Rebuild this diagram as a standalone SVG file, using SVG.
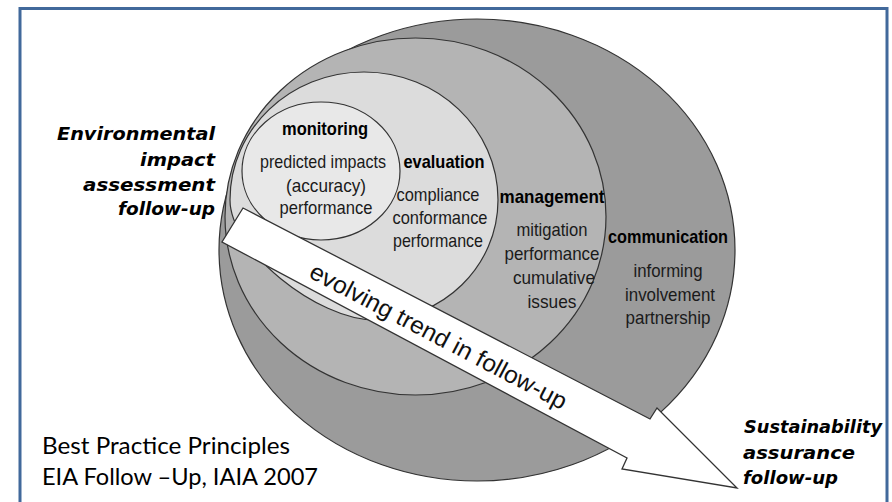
<svg xmlns="http://www.w3.org/2000/svg" width="892" height="502" viewBox="0 0 892 502">
  <style>
    .ring { stroke: #333333; stroke-width: 1.2; }
    .lbl { font-family: "Liberation Sans", Arial, sans-serif; font-size: 18.5px; fill: #1a1a1a; text-anchor: middle; }
    .hd { font-weight: bold; fill: #000; }
    .side { font-family: "DejaVu Sans", Verdana, sans-serif; font-size: 18px; font-weight: bold; font-style: italic; fill: #000; }
    .src { font-family: Lato, "Open Sans", sans-serif; font-size: 24px; fill: #000; }
  </style>

  <rect width="892" height="502" fill="#ffffff"/>
  <!-- page frame (open at the bottom edge) -->
  <rect x="20" y="8.5" width="867" height="520" fill="none" stroke="#41699b" stroke-width="3"/>

  <!-- outermost ring: communication -->
  <g id="communication">
    <ellipse class="ring" fill="#9b9b9b" cx="477" cy="250" rx="258" ry="231"/>
    <text class="lbl hd" x="668" y="243" textLength="120" lengthAdjust="spacingAndGlyphs">communication</text>
    <text class="lbl" x="668" y="277" textLength="69" lengthAdjust="spacingAndGlyphs">informing</text>
    <text class="lbl" x="670" y="301" textLength="90" lengthAdjust="spacingAndGlyphs">involvement</text>
    <text class="lbl" x="668" y="324" textLength="85" lengthAdjust="spacingAndGlyphs">partnership</text>
  </g>

  <!-- management ring -->
  <g id="management">
    <ellipse class="ring" fill="#b4b4b4" cx="415.5" cy="216.5" rx="190.5" ry="178.5"/>
    <text class="lbl hd" x="552" y="203" textLength="105" lengthAdjust="spacingAndGlyphs">management</text>
    <text class="lbl" x="552" y="236" textLength="71" lengthAdjust="spacingAndGlyphs">mitigation</text>
    <text class="lbl" x="552" y="260" textLength="95" lengthAdjust="spacingAndGlyphs">performance</text>
    <text class="lbl" x="554" y="284" textLength="82" lengthAdjust="spacingAndGlyphs">cumulative</text>
    <text class="lbl" x="552" y="308" textLength="49" lengthAdjust="spacingAndGlyphs">issues</text>
  </g>

  <!-- evaluation ring: lower-left quarter drawn flatter -->
  <g id="evaluation">
    <path class="ring" fill="#dcdcdc"
      d="M230,200 C230,129 290,72 364,72 C438,72 498,129 498,200 C498,266 443,320 375,320 C317,320 230,250 230,200 Z"/>
    <text class="lbl hd" x="444" y="168" textLength="81" lengthAdjust="spacingAndGlyphs">evaluation</text>
    <text class="lbl" x="438" y="201" textLength="83" lengthAdjust="spacingAndGlyphs">compliance</text>
    <text class="lbl" x="440" y="224" textLength="95" lengthAdjust="spacingAndGlyphs">conformance</text>
    <text class="lbl" x="438" y="247" textLength="90" lengthAdjust="spacingAndGlyphs">performance</text>
  </g>

  <!-- innermost: monitoring -->
  <g id="monitoring">
    <ellipse class="ring" fill="#e8e8e8" cx="321" cy="171" rx="79" ry="69"/>
    <text class="lbl hd" x="325" y="135" textLength="86" lengthAdjust="spacingAndGlyphs">monitoring</text>
    <text class="lbl" x="323" y="168" textLength="126" lengthAdjust="spacingAndGlyphs">predicted impacts</text>
    <text class="lbl" x="326" y="192" textLength="80" lengthAdjust="spacingAndGlyphs">(accuracy)</text>
    <text class="lbl" x="326" y="214" textLength="93" lengthAdjust="spacingAndGlyphs">performance</text>
  </g>

  <!-- trend arrow across the rings -->
  <g id="connectors">
    <g id="trend-arrow">
      <path d="M243,208 L650,419 L657,408 L737,488 L622,469 L627,458 L222,242 Z"
        fill="#ffffff" stroke="#333333" stroke-width="1.3" stroke-linejoin="miter"/>
      <text transform="rotate(27.7)" x="401" y="102" font-family="Liberation Sans, Arial, sans-serif"
        font-size="24" fill="#111" textLength="287" lengthAdjust="spacingAndGlyphs">evolving trend in follow-up</text>
    </g>
  </g>

  <!-- end-point captions -->
  <g id="eia-followup">
    <text class="side" text-anchor="end" x="215" y="140" textLength="158" lengthAdjust="spacingAndGlyphs">Environmental</text>
    <text class="side" text-anchor="end" x="215" y="166" textLength="75" lengthAdjust="spacingAndGlyphs">impact</text>
    <text class="side" text-anchor="end" x="215" y="191" textLength="132" lengthAdjust="spacingAndGlyphs">assessment</text>
    <text class="side" text-anchor="end" x="215" y="215" textLength="97" lengthAdjust="spacingAndGlyphs">follow-up</text>
  </g>
  <g id="sustainability-followup">
    <text class="side" x="744" y="433" textLength="138" lengthAdjust="spacingAndGlyphs">Sustainability</text>
    <text class="side" x="743" y="459" textLength="112" lengthAdjust="spacingAndGlyphs">assurance</text>
    <text class="side" x="743" y="484" textLength="95" lengthAdjust="spacingAndGlyphs">follow-up</text>
  </g>

  <!-- source note -->
  <g id="source">
    <text class="src" x="42" y="454" textLength="248" lengthAdjust="spacingAndGlyphs">Best Practice Principles</text>
    <text class="src" x="42" y="485" textLength="276" lengthAdjust="spacingAndGlyphs">EIA Follow –Up, IAIA 2007</text>
  </g>
</svg>
